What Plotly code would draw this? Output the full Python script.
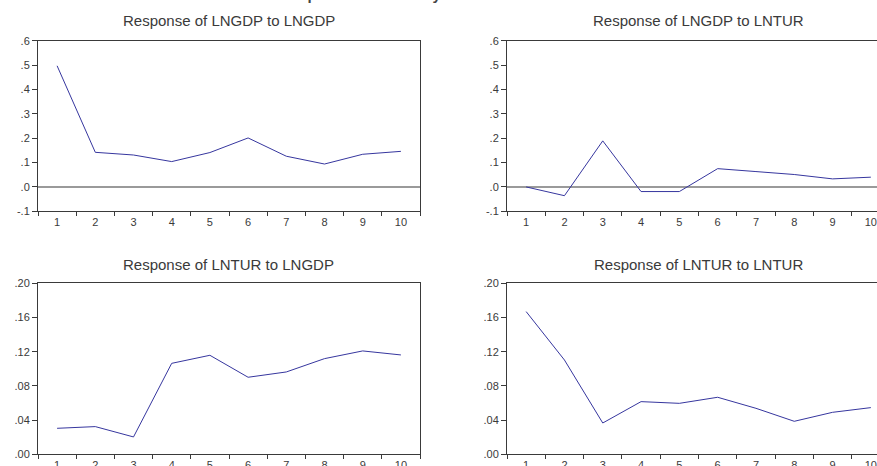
import plotly.graph_objects as go

periods = ["1", "2", "3", "4", "5", "6", "7", "8", "9", "10"]

gdp_to_gdp = [0.497, 0.142, 0.131, 0.104, 0.141, 0.201, 0.126, 0.094, 0.134, 0.146]
gdp_to_tur = [0.000, -0.036, 0.189, -0.019, -0.019, 0.075, 0.063, 0.051, 0.033, 0.040]
tur_to_gdp = [0.0304, 0.0324, 0.0203, 0.1064, 0.1158, 0.0901, 0.0963, 0.1119, 0.1209, 0.1162]
tur_to_tur = [0.1669, 0.1103, 0.0366, 0.0616, 0.0596, 0.0667, 0.0538, 0.0386, 0.0491, 0.0546]

top_ticks = [-0.1, 0.0, 0.1, 0.2, 0.3, 0.4, 0.5, 0.6]
top_ticktext = ["-.1", ".0", ".1", ".2", ".3", ".4", ".5", ".6"]
bot_ticks = [0.0, 0.04, 0.08, 0.12, 0.16, 0.20]
bot_ticktext = [".00", ".04", ".08", ".12", ".16", ".20"]

titles = ["Response of LNGDP to LNGDP", "Response of LNGDP to LNTUR",
          "Response of LNTUR to LNGDP", "Response of LNTUR to LNTUR"]
main_title = "Response to Cholesky One S.D. Innovations"

# The reference is a crop of a larger page: the figure is drawn a bit larger
# than the 877x466 window and the overflow is clipped.
FW, FH = 900, 480
LINE = "#36369e"
AX = "#3a3a3a"
TXT = "#3a3a3a"
FONT = "Liberation Sans, Arial, sans-serif"

def px_x(p):
    return p / FW

def px_y(p):
    return 1 - p / FH

left_dom = [px_x(38), px_x(420)]
right_dom = [px_x(507), px_x(890)]
top_dom = [px_y(211.3), px_y(40.7)]
bot_dom = [px_y(454.3), px_y(283.3)]

fig = go.Figure()

panels = [
    (gdp_to_gdp, "x", "y", left_dom, top_dom, [-0.1, 0.6], top_ticks, top_ticktext, True),
    (gdp_to_tur, "x2", "y2", right_dom, top_dom, [-0.1, 0.6], top_ticks, top_ticktext, True),
    (tur_to_gdp, "x3", "y3", left_dom, bot_dom, [0.0, 0.20], bot_ticks, bot_ticktext, False),
    (tur_to_tur, "x4", "y4", right_dom, bot_dom, [0.0, 0.20], bot_ticks, bot_ticktext, False),
]

shapes = []
for i, (vals, xa, ya, xd, yd, yr, tv, tt, zero) in enumerate(panels):
    if zero:
        shapes.append(dict(type="line", xref=xa + " domain", yref=ya, x0=0, x1=1, y0=0, y1=0,
                           line=dict(color="#9a9a9a", width=2), layer="below"))
    fig.add_trace(go.Scatter(x=periods, y=vals, mode="lines", xaxis=xa, yaxis=ya,
                             line=dict(color=LINE, width=1), showlegend=False,
                             hoverinfo="skip"))
    suffix = "" if i == 0 else str(i + 1)
    fig.update_layout(**{
        "xaxis" + suffix: dict(
            domain=xd, range=[-0.5, 9.5], type="category", tickson="boundaries",
            showline=True, linecolor=AX, linewidth=1, mirror=True,
            ticks="outside", ticklen=4, tickcolor=AX, tickwidth=1,
            showgrid=False, zeroline=False, anchor=ya, ticklabeloverflow="allow",
            automargin=False,
            tickfont=dict(size=11, color=TXT, family=FONT), fixedrange=True,
        ),
        "yaxis" + suffix: dict(
            domain=yd, range=yr, tickvals=tv, ticktext=tt,
            showline=True, linecolor=AX, linewidth=1, mirror=True,
            ticks="outside", ticklen=5, tickcolor=AX, tickwidth=1,
            showgrid=False, zeroline=False, ticklabeloverflow="allow",
            ticklabelstandoff=0, automargin=False,
            anchor=xa, tickfont=dict(size=11, color=TXT, family=FONT), fixedrange=True,
        ),
    })

annotations = []
centers = [(229, 21), (698.5, 21), (229, 264), (698.5, 264)]
for t, (cx, cy) in zip(titles, centers):
    annotations.append(dict(text=t, x=px_x(cx), y=px_y(cy), xref="paper", yref="paper",
                            xanchor="center", yanchor="middle", showarrow=False,
                            font=dict(size=15, color=TXT, family=FONT)))
annotations.append(dict(text="<b>" + main_title + "</b>", x=px_x(438), y=px_y(-6),
                        xref="paper", yref="paper", xanchor="center", yanchor="middle",
                        showarrow=False, font=dict(size=15, color="#444444", family=FONT)))

fig.update_layout(width=FW, height=FH, margin=dict(l=0, r=0, t=0, b=0, autoexpand=False),
                  paper_bgcolor="white", plot_bgcolor="white",
                  annotations=annotations, shapes=shapes)

fig.write_html(
    "out.html",
    config={"displayModeBar": False},
    post_script=("document.documentElement.style.margin='0';"
                 "document.body.style.margin='0';"
                 "document.body.style.overflow='hidden';"
                 "document.documentElement.style.overflow='hidden';"),
)
